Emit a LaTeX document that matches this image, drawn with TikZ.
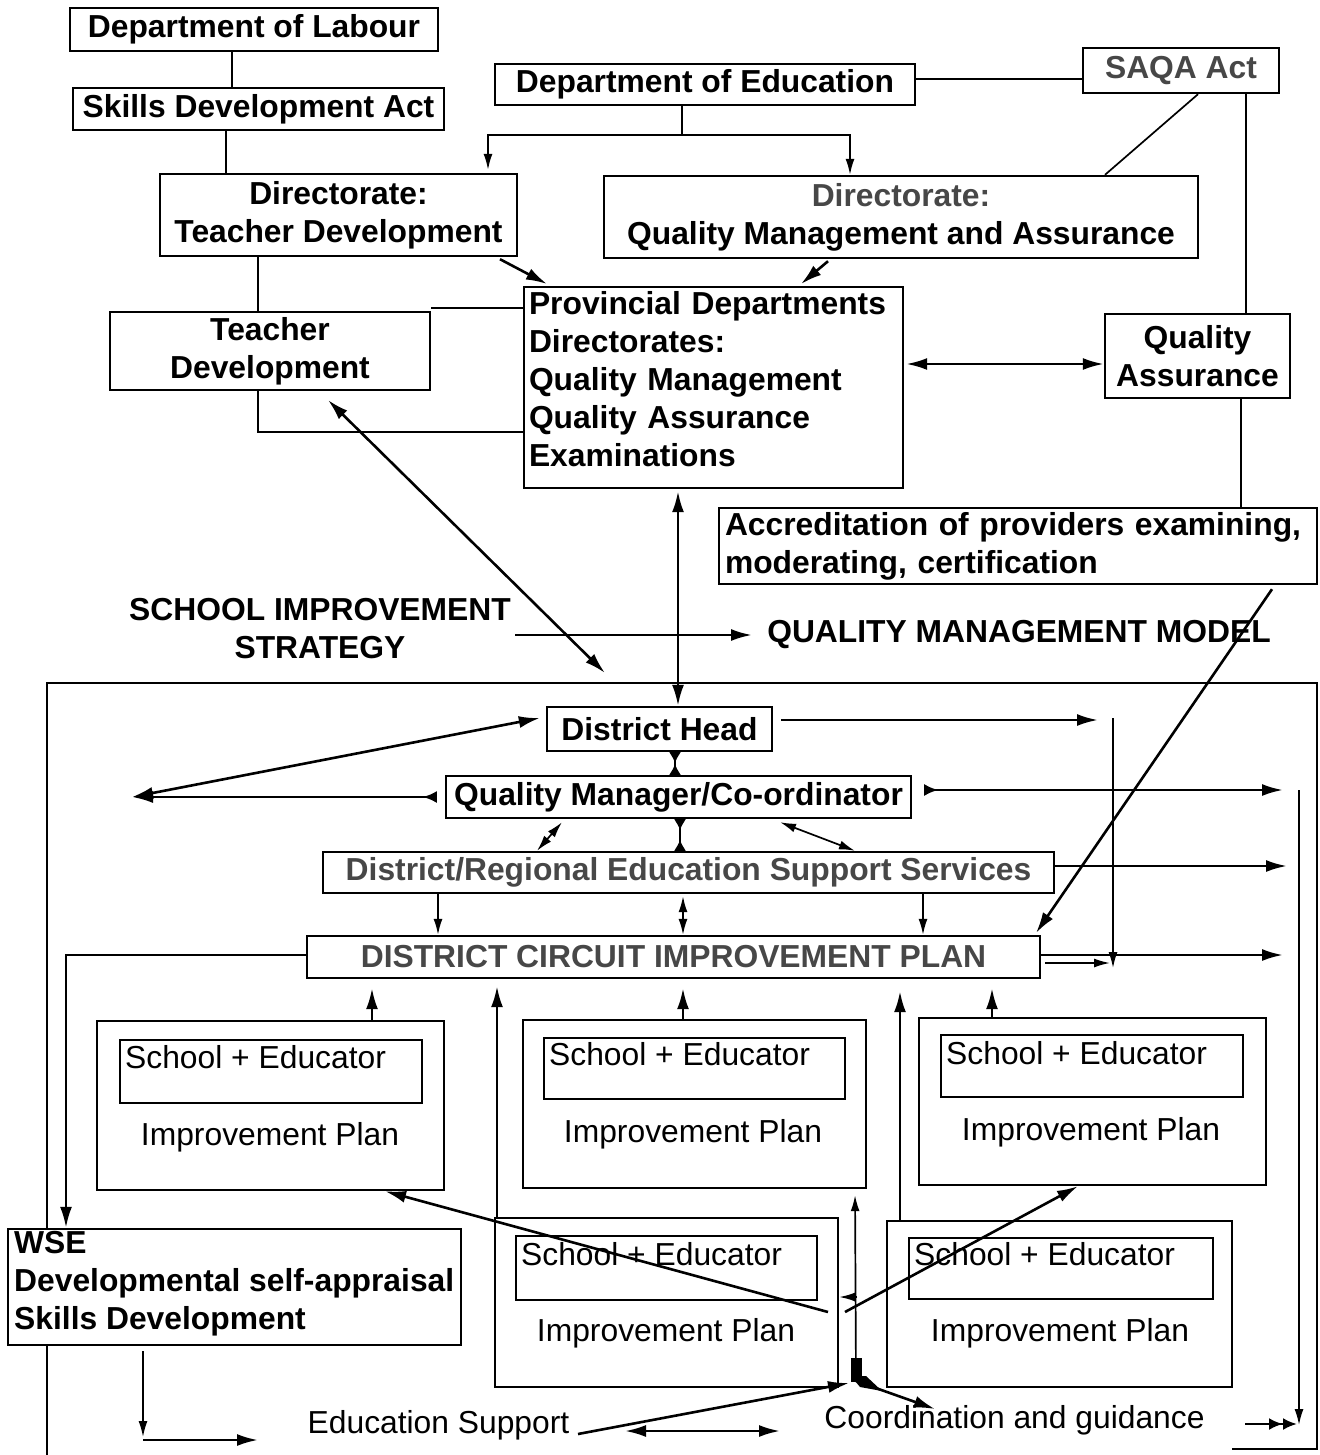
\documentclass[tikz,border=0pt]{standalone}
\usepackage{fontspec}
\setmainfont{Liberation Sans}
\usetikzlibrary{arrows.meta}
\newcommand\bfnt{\fontsize{31.8}{38}\selectfont\bfseries}
\newcommand\rgfnt{\fontsize{31.8}{38}\selectfont}
\begin{document}
\begin{tikzpicture}[x=1pt,y=-1pt,
  >={Latex[length=21pt,width=12pt]},
  box/.style={draw, line width=2.4pt, fill=white, inner sep=0pt},
  bt/.style={font=\bfnt, inner sep=0pt},
  rt/.style={font=\rgfnt, inner sep=0pt},
  soft/.style={text=black!72},
  conn/.style={line width=2.6pt},
  fine/.style={line width=1.7pt, >={Latex[length=16pt,width=9pt]}},
  bow/.style={arrows={Latex[reversed,length=11pt,width=12pt]-Latex[reversed,length=11pt,width=12pt]}},
  tail/.style={arrows={Latex[reversed,length=14pt,width=12pt]-Latex[length=21pt,width=12pt]}},
]
\fill[white] (0,0) rectangle (1319,1455);
\useasboundingbox (0,0) rectangle (1319,1455);

% outer frame of the district level
\draw[line width=1.9pt] (47,1455) -- (47,683) -- (1317,683) -- (1317,1449) -- (1232,1449);

% ---------- national level ----------
\node[box, bt, minimum width=368pt, minimum height=43pt] (dol) at (254,29.5) {Department of Labour};
\node[box, bt, minimum width=371pt, minimum height=42pt] (sda) at (258.5,109) {Skills Development Act};
\node[box, bt, align=center, minimum width=357pt, minimum height=82pt] (dtd) at (338.5,215) {Directorate:\\Teacher Development};
\node[box, bt, align=center, minimum width=320pt, minimum height=78pt] (td) at (270,351) {Teacher\\Development};
\node[box, bt, minimum width=420pt, minimum height=41pt] (doe) at (705,84.5) {Department of Education};
\node[box, bt, soft, minimum width=196pt, minimum height=45pt] (saqa) at (1181,70.5) {SAQA Act};
\node[box, bt, align=center, minimum width=594pt, minimum height=82pt] (dqma) at (901,217) {\textcolor{black!72}{Directorate:}\\Quality Management and Assurance};

% ---------- provincial level ----------
\node[box, minimum width=379pt, minimum height=201pt] (prov) at (713.5,387.5) {};
\node[bt, align=left, text width=369pt] (provtxt) at (713.5,379) {Provincial Departments\\Directorates:\\Quality Management\\Quality Assurance\\Examinations};
\node[box, bt, align=center, minimum width=185pt, minimum height=84pt] (qa) at (1197.5,356) {Quality\\Assurance};
\node[box, bt, align=left, text width=586pt, inner xsep=6pt, minimum height=76pt] (acc) at (1018,546) {Accreditation of providers examining,\\moderating, certification};

\node[bt, align=center] (sis) at (320,629) {SCHOOL IMPROVEMENT\\STRATEGY};
\node[bt] (qmm) at (1019,635) {QUALITY MANAGEMENT MODEL};

% ---------- district level ----------
\node[box, bt, minimum width=225pt, minimum height=44pt] (dh) at (659.5,729) {District Head};
\node[box, bt, minimum width=465pt, minimum height=42pt] (qm) at (678.5,797) {Quality Manager/Co-ordinator};
\node[box, bt, soft, minimum width=731pt, minimum height=41pt] (dress) at (688.5,872.5) {District/Regional Education Support Services};
\node[box, bt, soft, minimum width=733pt, minimum height=42pt] (dcip) at (673.5,957) {DISTRICT CIRCUIT IMPROVEMENT PLAN};

% ---------- school plans ----------
\node[box, minimum width=347pt, minimum height=169pt] (pa) at (270.5,1105.5) {};
\node[box, minimum width=302pt, minimum height=63pt] (pai) at (271,1071.5) {};
\node[rt, anchor=west] (pat) at (125,1057) {School + Educator};
\node[rt] (pap) at (270,1137) {Improvement Plan};

\node[box, minimum width=343pt, minimum height=168pt] (pb) at (694.5,1104) {};
\node[box, minimum width=301pt, minimum height=61pt] (pbi) at (694.5,1068.5) {};
\node[rt, anchor=west] (pbt) at (549,1054) {School + Educator};
\node[rt] (pbp) at (693,1134) {Improvement Plan};

\node[box, minimum width=347pt, minimum height=167pt] (pc) at (1092.5,1101.5) {};
\node[box, minimum width=302pt, minimum height=62pt] (pci) at (1092,1066) {};
\node[rt, anchor=west] (pct) at (946,1053) {School + Educator};
\node[rt] (pcp) at (1091,1132) {Improvement Plan};

\node[box, minimum width=343pt, minimum height=169pt] (pd) at (666.5,1302.5) {};
\node[box, minimum width=301pt, minimum height=64pt] (pdi) at (666.5,1268) {};
\node[rt, anchor=west] (pdt) at (521,1254) {School + Educator};
\node[rt] (pdp) at (666,1333) {Improvement Plan};

\node[box, minimum width=345pt, minimum height=166pt] (pe) at (1059.5,1304) {};
\node[box, minimum width=304pt, minimum height=61pt] (pei) at (1061,1268.5) {};
\node[rt, anchor=west] (pet) at (914,1254) {School + Educator};
\node[rt] (pep) at (1060,1333) {Improvement Plan};

\node[box, minimum width=453pt, minimum height=116pt] (wse) at (234.5,1287) {};
\node[bt, align=left, anchor=west] (wsetxt) at (14,1284) {WSE\\Developmental self-appraisal\\Skills Development};

\node[rt] (es) at (438.5,1425) {Education Support};
\node[rt] (cg) at (1014.5,1420) {Coordination and guidance};

% ---------- connectors: national and provincial ----------
\draw[conn] (232,0 |- dol.south) -- (232,0 |- sda.north);
\draw[conn] (226,0 |- sda.south) -- (226,0 |- dtd.north);
\draw[conn] (258,0 |- dtd.south) -- (258,0 |- td.north);
\draw[conn] (td.north east |- 0,308) -- (prov.west |- 0,308);
\draw[conn] (258,0 |- td.south) -- (258,432) -- (prov.west |- 0,432);
\draw[conn,->] (500,0 |- dtd.south) ++(0,2) -- (547,284);
\draw[fine,<->] (488,0 |- dtd.north) ++(0,-3) -- (488,135) -- (850,135) -- (850,0 |- dqma.north);
\draw[fine] (682,0 |- doe.south) -- (682,135);
\draw[conn] (doe.east |- 0,79) -- (saqa.west |- 0,79);
\draw[fine] (1198,0 |- saqa.south) -- (1105,0 |- dqma.north);
\draw[fine] (1246,0 |- saqa.south) -- (1246,0 |- qa.north);
\draw[conn,->] (828,0 |- dqma.south) ++(0,2) -- (801,284);
\draw[conn,<->] (prov.east |- 0,364) ++(2,0) -- (qa.west |- 0,364);
\draw[fine] (1241,0 |- qa.south) -- (1241,0 |- acc.north);
\draw[conn,->] (1272,0 |- acc.south) ++(0,4) -- (1036,933);
\draw[conn,->] (515,635) -- (752,0 |- qmm.west);
\draw[conn,<->] (328,400) -- (605,673);
\draw[conn,<->] (678,0 |- prov.south) ++(0,2) -- (678,0 |- dh.north);

% ---------- connectors: district ----------
\coordinate (lft) at (132,797);
\draw[conn,<->] (dh.west |- 0,718) ++(-6,0) -- (lft);
\draw[conn,tail] (qm.west) ++(-8,0) -- (lft);
\draw[conn,->] (dh.east |- 0,720) ++(8,0) -- (1098,720);
\draw[fine,->] (1113,718) -- (1113,968);
\draw[conn,tail] (qm.east |- 0,790) ++(12,0) -- (1283,790);
\draw[fine,->] (1299,790) -- (1299,1425);
\draw[conn,->] (dress.east |- 0,866) -- (1287,866);
\draw[conn,->] (dcip.east |- 0,955) -- (1283,955);
\draw[fine,->] (1045,963) -- (1110,963);
\draw[conn,bow] (675,0 |- dh.south) -- (675,0 |- qm.north);
\draw[fine,<->] (562,0 |- qm.south) ++(0,3) -- (537,0 |- dress.north);
\draw[fine,bow] (680,0 |- qm.south) -- (680,0 |- dress.north);
\draw[fine,<->] (780,0 |- qm.south) ++(0,3) -- (855,0 |- dress.north);
\draw[fine,->] (438,0 |- dress.south) -- (438,0 |- dcip.north);
\draw[fine,<->] (683,0 |- dress.south) ++(0,2) -- (683,0 |- dcip.north);
\draw[fine,->] (923,0 |- dress.south) -- (923,0 |- dcip.north);
\draw[conn,->] (dcip.west |- 0,955) -- (66,955) -- (66,0 |- wse.north);

% plans report up to the circuit plan
\draw[conn,->,shorten >=9pt] (372,0 |- pa.north) -- (372,0 |- dcip.south);
\draw[conn,->,shorten >=9pt] (683,0 |- pb.north) -- (683,0 |- dcip.south);
\draw[conn,->,shorten >=9pt] (992,0 |- pc.north) -- (992,0 |- dcip.south);
\draw[conn,->,shorten >=7pt] (497,0 |- pd.north) -- (497,0 |- dcip.south);
\draw[conn,->,shorten >=12pt] (900,0 |- pe.north) -- (900,0 |- dcip.south);

% cross links between plans
\draw[conn,->] (828,1312) -- (385,0 |- pa.south);
\draw[conn,->] (845,1312) -- (1078,0 |- pc.south);
\draw[fine,->] (857,1297) -- (pd.east |- 0,1297);

% support hub
\coordinate (hub) at (856,1381);
\fill (851,1358) rectangle (862,1382);
\fill (851,1376) -- (866,1376) -- (882,1391) -- (860,1387) -- cycle;
\draw[fine,->,shorten >=6pt] (hub) -- (855,0 |- pb.south);
\draw[conn,->] (578,1434) -- (849,1383);
\draw[conn,<->] (625,1431) -- (780,1431);
\draw[conn,->] (hub) -- (935,1409);
\draw[conn,-{Latex[length=14pt,width=12pt] Latex[length=14pt,width=12pt]}] (1245,1424) -- (1297,1424);

% WSE outputs
\draw[fine,->] (143,0 |- wse.south) ++(0,5) -- (143,1437);
\draw[conn,->] (143,1440) -- (258,1440);
\end{tikzpicture}
\end{document}
